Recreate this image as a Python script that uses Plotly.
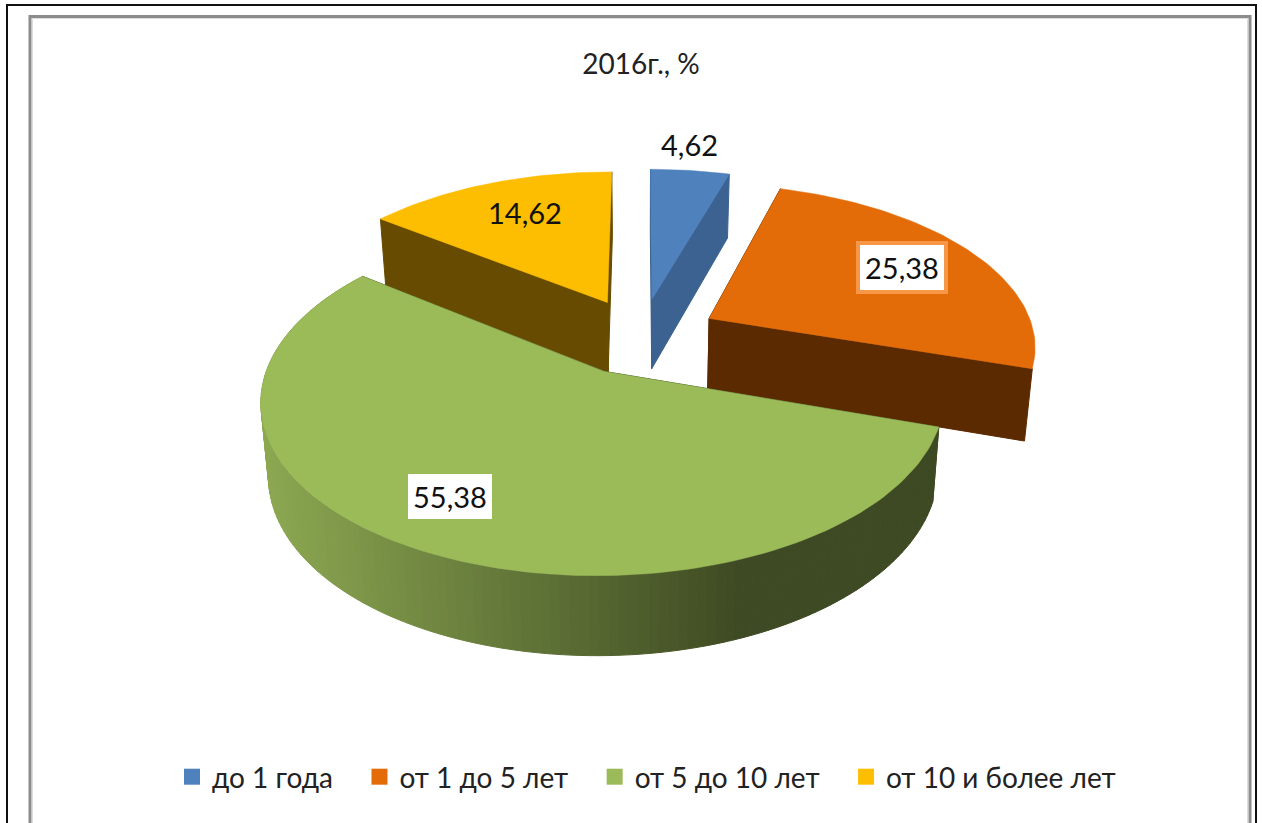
import math
import plotly.graph_objects as go

# --- chart data ---
categories = ["до 1 года", "от 1 до 5 лет", "от 5 до 10 лет", "от 10 и более лет"]
values = [4.62, 25.38, 55.38, 14.62]
value_labels = ["4,62", "25,38", "55,38", "14,62"]
title_text = "2016г., %"

# --- style ---
top_colors = ["#4F81BD", "#E36C09", "#9BBB59", "#FDBD00"]
side_colors = ["#3B6291", "#5C2A00", "#3E4A23", "#674B00"]
legend_padding = [3, 3, 3, 0]
FONT = "Lato, 'Noto Sans', sans-serif"
W, H = 1262, 823

# --- 3D pie projection (pixel-scale axes) ---
CX, CY = 641, 336
A, B, K = 326, 160.5, 0.155
EXPLODE = 0.24
DEPTH, DEPTH_K, BASE_X = 71, 0.093, 0.98


def project(u, v, base=False):
    den = 1 + K * v
    x = CX + A * u / den
    y = CY - B * v / den
    if base:
        x = CX + (x - CX) * BASE_X
        y = y + DEPTH / (1 + DEPTH_K * v)
    return x, y


def slice_geometry(start, end):
    mid = (start + end) / 2
    ox, oy = EXPLODE * math.sin(mid), EXPLODE * math.cos(mid)
    n = max(4, int((end - start) * 40))
    angles = [start + (end - start) * i / n for i in range(n + 1)]
    rim = [(ox + math.sin(a), oy + math.cos(a)) for a in angles]
    return (ox, oy), rim, angles


def poly(points, color, width=1):
    xs = [p[0] for p in points] + [points[0][0]]
    ys = [p[1] for p in points] + [points[0][1]]
    return go.Scatter(x=xs, y=ys, mode="lines", fill="toself", fillcolor=color,
                      line=dict(color=color, width=width), hoverinfo="skip", showlegend=False)


def mix(c1, c2, t):
    return "rgb(%d,%d,%d)" % tuple(c1[i] + (c2[i] - c1[i]) * t for i in range(3))


def rim_color(x):
    t = min(1, max(0, (x - 262) / 480))
    return mix((141, 169, 82), (62, 74, 35), t)


total = sum(values)
spans, acc = [], 0
for val in values:
    spans.append((acc / total * 2 * math.pi, (acc + val) / total * 2 * math.pi))
    acc += val

fig = go.Figure()
for idx in [3, 0, 1, 2]:
    start, end = spans[idx]
    apex, rim, angles = slice_geometry(start, end)
    top = [project(*apex)] + [project(*p) for p in rim]
    for edge in (rim[0], rim[-1]):
        fig.add_trace(poly([project(*apex), project(*edge), project(*edge, base=True),
                            project(*apex, base=True)], side_colors[idx]))
    if idx == 2:
        for a, b in zip(rim[:-1], rim[1:]):
            quad = [project(*a), project(*b), project(*b, base=True), project(*a, base=True)]
            fig.add_trace(poly(quad, rim_color(sum(p[0] for p in quad) / 4)))
    fig.add_trace(poly(top, top_colors[idx], 0.5))

for name, color, pad in zip(categories, top_colors, legend_padding):
    fig.add_trace(go.Scatter(x=[None], y=[None], mode="markers", name=name + "\u00a0" * pad,
                             marker=dict(symbol="square", size=17, color=color)))

# data labels
label_pos = [(689, 144), (902, 267), (450, 496), (525, 212)]
label_bg = [None, "#FFFFFF", "#FFFFFF", "#FDBD00"]
label_border = [None, "#F79646", "#FFFFFF", "#FDBD00"]
label_bw = [0, 4, 1, 1]
label_pad = [3, 5, 4, 3]
for text, (x, y), bg, bc, bw, pad in zip(value_labels, label_pos, label_bg, label_border, label_bw, label_pad):
    fig.add_annotation(x=x, y=y, text=text, showarrow=False,
                       font=dict(family=FONT, size=29, color="#111111"),
                       bgcolor=bg, bordercolor=bc, borderwidth=bw, borderpad=pad)

frame = [
    (7, 823, 7, 5, 1256, 5, 1256, 823, "#111111", 2),
    (30, 823, 30, 16.5, 1250, 16.5, 1250, 823, "#8C8C8C", 3),
    (32.5, 823, 32.5, 18.5, 1247.5, 18.5, 1247.5, 823, "#DDDDDD", 1),
]
for x0, y0, x1, y1, x2, y2, x3, y3, color, w in frame:
    fig.add_shape(type="path", path=f"M{x0},{y0} L{x1},{y1} L{x2},{y2} L{x3},{y3}",
                  line=dict(color=color, width=w), layer="below")

fig.update_layout(
    width=W, height=H, margin=dict(l=0, r=0, t=0, b=0),
    paper_bgcolor="white", plot_bgcolor="white",
    xaxis=dict(range=[0, W], visible=False, fixedrange=True),
    yaxis=dict(range=[H, 0], visible=False, fixedrange=True),
    title=dict(text=title_text, x=641 / W, y=1 - 64 / H, xanchor="center", yanchor="middle",
               font=dict(family=FONT, size=28, color="#222222")),
    legend=dict(orientation="h", x=172 / W, y=1 - 777 / H, xanchor="left", yanchor="middle",
                font=dict(family=FONT, size=28, color="#222222"), bgcolor="rgba(0,0,0,0)"),
    showlegend=True,
)
fig.write_html("out.html", config={"displayModeBar": False},
               post_script="document.body.style.margin='0';")
